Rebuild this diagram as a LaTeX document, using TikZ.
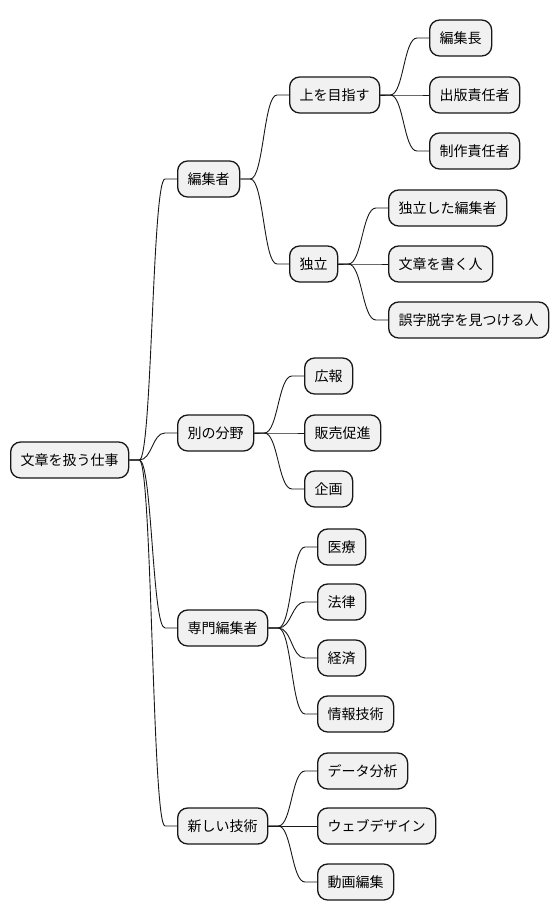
\documentclass[tikz,border=0pt]{standalone}
\usepackage{fontspec}
\setmainfont{Noto Sans CJK JP}
\usepackage{xcolor}
\usepackage{tikz}
\usetikzlibrary{calc}
\usetikzlibrary{positioning}

\definecolor{nodefill}{HTML}{F1F1F1}
\definecolor{nodeline}{HTML}{181818}

\tikzset{
  topic/.style={draw=nodeline, fill=nodefill, line width=1.3pt, rounded corners=10pt,
    anchor=west, minimum height=36pt, inner xsep=10pt, font=\fontsize{14pt}{16pt}\selectfont},
  link/.style={draw=nodeline, line width=0.9pt}
}

\newcommand{\branch}[2]{%
  \coordinate (p) at ([xshift=10pt]#1.east);
  \coordinate (q) at ([xshift=-12pt]#2.west);
  \coordinate (m) at ($(p)!0.5!(q)$);
  \draw[link] (#1.east) -- (p) .. controls (m |- p) and (m |- q) .. (q) -- (#2.west);
}

\begin{document}
\begin{tikzpicture}[x=1pt, y=-1pt]
            \useasboundingbox[fill=white] (0,0) rectangle (558,921);

            \node[topic] (root) at (10,460) {文章を扱う仕事};

            \node[topic] (editor) at (177,179) {編集者};
            \node[topic] (other) at (177,433) {別の分野};
            \node[topic] (special) at (177,628) {専門編集者};
            \node[topic] (tech) at (177,826) {新しい技術};

            \node[topic] (up) at (289,95) {上を目指す};
            \node[topic] (indep) at (289,264) {独立};

            \node[topic] (chief) at (429,38) {編集長};
            \node[topic] (publisher) at (429,95) {出版責任者};
            \node[topic] (producer) at (429,151) {制作責任者};

            \node[topic] (freeed) at (388,208) {独立した編集者};
            \node[topic] (writer) at (388,264) {文章を書く人};
            \node[topic] (proof) at (388,320) {誤字脱字を見つける人};

            \node[topic] (pr) at (304,376) {広報};
            \node[topic] (sales) at (304,433) {販売促進};
            \node[topic] (plan) at (304,489) {企画};

            \node[topic] (medical) at (317,547) {医療};
            \node[topic] (law) at (317,602) {法律};
            \node[topic] (economy) at (317,658) {経済};
            \node[topic] (it) at (317,714) {情報技術};

            \node[topic] (data) at (317,771) {データ分析};
            \node[topic] (web) at (317,826) {ウェブデザイン};
            \node[topic] (video) at (317,882) {動画編集};

            \foreach \a/\b in {root/editor, root/other, root/special, root/tech,
                    editor/up, editor/indep,
                    up/chief, up/publisher, up/producer,
                    indep/freeed, indep/writer, indep/proof,
                    other/pr, other/sales, other/plan,
                    special/medical, special/law, special/economy, special/it,
                    tech/data, tech/web, tech/video}
                \branch{\a}{\b};
        \end{tikzpicture}
\end{document}
